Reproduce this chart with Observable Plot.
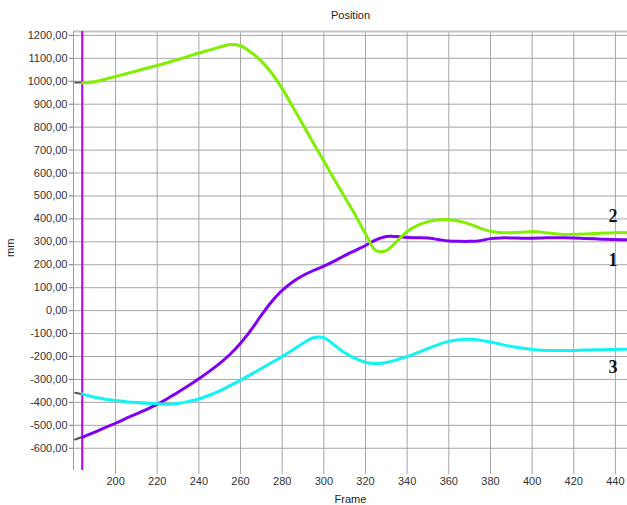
<!DOCTYPE html>
<html>
<head>
<meta charset="utf-8">
<script src="https://cdn.jsdelivr.net/npm/d3@7"></script>
<script src="https://cdn.jsdelivr.net/npm/@observablehq/plot@0.6"></script>
<style>
  html, body { margin: 0; padding: 0; background: #fff; }
</style>
</head>
<body>
<div id="chart"></div>
<script>
// ---- data ----
const title = "Position";
const xLabel = "Frame";
const yLabel = "mm";
const cursorFrame = 184;
const xTicks = [200, 220, 240, 260, 280, 300, 320, 340, 360, 380, 400, 420, 440];
const yTicks = [-600, -500, -400, -300, -200, -100, 0, 100, 200, 300, 400, 500, 600, 700, 800, 900, 1000, 1100, 1200];
const xDomain = [179.8, 445.8];
const yDomain = [-697, 1217];

// sample frames shared by all three series
const frames = [184, 190, 195, 200, 205, 210, 215, 220, 225, 230, 235, 240, 245, 250, 255, 260, 265, 270, 275, 280, 285, 290, 295, 300, 305, 310, 315, 320, 325, 330, 335, 340, 345, 350, 355, 360, 365, 370, 375, 380, 385, 390, 395, 400, 405, 410, 415, 420, 425, 430, 435, 440, 446];

// series 1 (purple)
const s1Values = [-552, -530, -510, -491, -470, -450, -430, -409, -383, -356, -327, -297, -265, -230, -190, -142, -85, -20, 40, 88, 125, 153, 175, 194, 216, 240, 262, 284, 308, 323, 323, 319, 318, 317, 310, 304, 302, 302, 305, 314, 317, 317, 316, 316, 317, 318, 318, 317, 315, 313, 311, 310, 309];

// series 2 (green)
const s2Values = [993, 998, 1009, 1021, 1033, 1045, 1057, 1069, 1082, 1095, 1109, 1123, 1136, 1149, 1160, 1155, 1126, 1088, 1035, 968, 890, 810, 730, 652, 573, 495, 418, 335, 262, 262, 302, 345, 372, 388, 396, 396, 390, 377, 360, 346, 340, 340, 342, 345, 341, 336, 332, 333, 334, 336, 338, 340, 340];

// series 3 (cyan)
const s3Values = [-363, -378, -386, -392, -397, -401, -404, -406, -408, -405, -396, -385, -369, -350, -327, -303, -278, -252, -226, -200, -172, -142, -118, -118, -150, -184, -208, -225, -231, -226, -214, -200, -183, -165, -148, -134, -127, -125, -129, -137, -147, -156, -163, -169, -173, -174, -174, -174, -172, -171, -170, -169, -168];

// short grey stubs before the cursor
const preFrames = [180.6, 183.5];
const pre1Values = [-562, -552];
const pre2Values = [995, 995];
const pre3Values = [-358, -363];

const seriesNames = ["1", "2", "3"];
const seriesColors = ["#8000f4", "#80f000", "#10f4f4"];
const labelDy = [20, -16, 18];

// ---- build tables ----
const toRows = (fr, vals, name) => fr.map((f, i) => ({frame: f, value: vals[i], series: name}));
const s1 = toRows(frames, s1Values, "1");
const s2 = toRows(frames, s2Values, "2");
const s3 = toRows(frames, s3Values, "3");
const pre = [
  toRows(preFrames, pre1Values, "p1"),
  toRows(preFrames, pre2Values, "p2"),
  toRows(preFrames, pre3Values, "p3")
];
const all = [s1, s2, s3];
const lastRows = all.map((s, i) => ({...s[s.length - 1], name: seriesNames[i], dy: labelDy[i]}));

const fmt = d => d.toFixed(2).replace(".", ",");
const gridColor = "#a6a6a6";

const chart = Plot.plot({
  width: 627,
  height: 505,
  marginLeft: 73,
  marginRight: 0,
  marginTop: 31,
  marginBottom: 35,
  style: {fontFamily: "'Liberation Sans', Arial, sans-serif", fontSize: "11px", color: "#333", background: "#fff"},
  x: {domain: xDomain, label: null},
  y: {domain: yDomain, label: null},
  marks: [
    Plot.gridX(xTicks, {stroke: gridColor, strokeOpacity: 1}),
    Plot.gridY(yTicks, {stroke: gridColor, strokeOpacity: 1}),
    Plot.ruleY([yDomain[1]], {stroke: "#c4c4c4", strokeWidth: 2}),
    Plot.ruleX([xDomain[0]], {stroke: "#9a9a9a"}),
    Plot.axisX(xTicks, {tickSize: 4, tickPadding: 3, stroke: gridColor, fill: "#333", fontSize: 11}),
    Plot.axisY(yTicks, {tickSize: 4, tickPadding: 2, tickFormat: fmt, stroke: "#777", fill: "#333", fontSize: 11}),
    ...pre.map(p => Plot.line(p, {x: "frame", y: "value", stroke: "#555", strokeWidth: 2})),
    Plot.ruleX([cursorFrame], {stroke: "#b000f4", strokeWidth: 2}),
    Plot.line(s1, {x: "frame", y: "value", stroke: seriesColors[0], strokeWidth: 3, curve: "catmull-rom"}),
    Plot.line(s2, {x: "frame", y: "value", stroke: seriesColors[1], strokeWidth: 3, curve: "catmull-rom"}),
    Plot.line(s3, {x: "frame", y: "value", stroke: seriesColors[2], strokeWidth: 3, curve: "catmull-rom"}),
    ...lastRows.map(r => Plot.text([r], {x: "frame", y: "value", text: "name", dx: -15, dy: r.dy,
      fontFamily: "'Liberation Serif', 'DejaVu Serif', serif", fontWeight: "bold", fontSize: 18, fill: "#111"})),
    Plot.text([title], {frameAnchor: "top", dy: -20, fontSize: 11, fill: "#222"}),
    Plot.text([xLabel], {frameAnchor: "bottom", dy: 32, fontSize: 11, fill: "#222"}),
    Plot.text([yLabel], {frameAnchor: "left", dx: -63, dy: 6, rotate: -90, fontSize: 11, fill: "#222"})
  ]
});
document.getElementById("chart").appendChild(chart);
</script>
</body>
</html>
